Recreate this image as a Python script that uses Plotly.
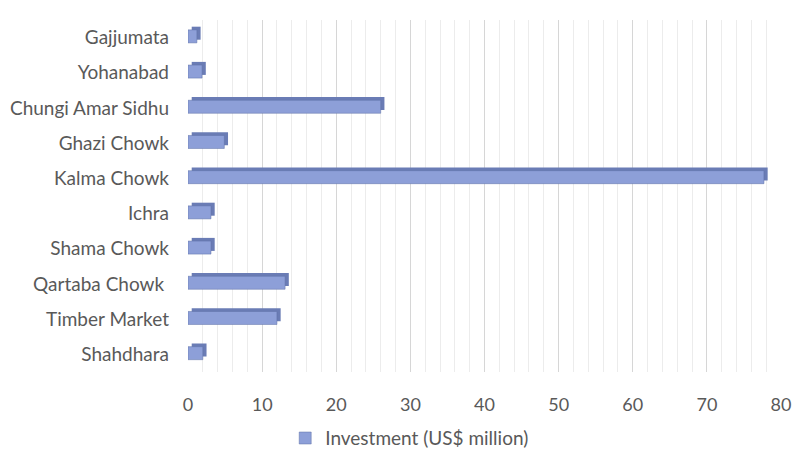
import plotly.graph_objects as go

# Investment per project location (US$ million), top to bottom as in the chart
locations = ["Gajjumata", "Yohanabad", "Chungi Amar Sidhu", "Ghazi Chowk", "Kalma Chowk",
             "Ichra", "Shama Chowk", "Qartaba Chowk ", "Timber Market", "Shahdhara"]
investment = [1.2, 1.9, 26.0, 4.9, 77.7, 3.1, 3.1, 13.1, 12.0, 2.0]

x_ticks = [0, 10, 20, 30, 40, 50, 60, 70, 80]

front_col = "#8D9FD8"
depth_col = "#6A7CB5"
edge_col = "#5E70A6"

fig = go.Figure()

# darker copy shifted back/right to give the 3D depth look
fig.add_trace(go.Bar(
    y=locations, x=investment, base=0.5, orientation="h",
    width=0.37, offset=-0.31,
    marker=dict(color=depth_col, line=dict(color=depth_col, width=0)),
    showlegend=False, hoverinfo="skip",
))

# front face
fig.add_trace(go.Bar(
    y=locations, x=investment, orientation="h",
    width=0.37, offset=-0.22,
    name="Investment (US$ million)",
    marker=dict(color=front_col, line=dict(color=edge_col, width=0.5)),
))

fig.update_layout(
    width=794, height=455,
    barmode="overlay",
    plot_bgcolor="white", paper_bgcolor="white",
    margin=dict(l=188, r=13, t=20, b=83),
    font=dict(family="Lato", size=19, color="#595959"),
    legend=dict(orientation="h", xref="container", x=0.516, xanchor="center",
                yref="container", y=0.037, yanchor="middle",
                itemwidth=30, bgcolor="rgba(0,0,0,0)",
                font=dict(size=19, color="#595959")),
    xaxis=dict(
        range=[0, 80], tickvals=x_ticks, ticktext=[str(v) for v in x_ticks],
        tickfont=dict(size=18), ticklabeloverflow="allow",
        showgrid=True, gridcolor="#D6D6D6", gridwidth=1,
        minor=dict(dtick=2, showgrid=True, gridcolor="#ECECEC", gridwidth=1),
        zeroline=False, showline=False, ticklabelstandoff=20, automargin=False,
    ),
    yaxis=dict(
        categoryorder="array", categoryarray=locations, autorange="reversed",
        showgrid=False, showline=False, ticklabelstandoff=18, automargin=False,
    ),
)

# drop the default page margin so the 794x455 figure fills the window exactly
fig.write_html("out.html", config={"displayModeBar": False},
               post_script="document.body.style.margin='0';document.body.style.overflow='hidden';")
